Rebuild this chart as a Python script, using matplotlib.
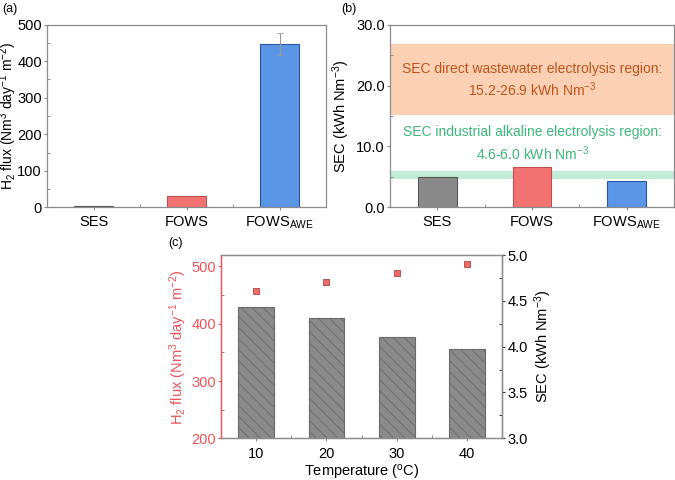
import numpy as np
import matplotlib
matplotlib.use("Agg")
import matplotlib.pyplot as plt
from matplotlib.ticker import MultipleLocator, FixedLocator

plt.rcParams["font.family"] = ["Liberation Sans", "DejaVu Sans"]
plt.rcParams["font.size"] = 10.5
plt.rcParams["mathtext.fontset"] = "custom"
plt.rcParams["mathtext.rm"] = "Liberation Sans"
plt.rcParams["mathtext.it"] = "Liberation Sans:italic"
plt.rcParams["mathtext.bf"] = "Liberation Sans:bold"
plt.rcParams["hatch.linewidth"] = 0.6

# panel (a) / (b)
systems = ["SES", "FOWS", "FOWS$_{\\mathregular{AWE}}$"]
h2_flux = [4, 31, 447]
h2_err = [0, 0, 29]
sec = [5.0, 6.7, 4.4]
bar_colors = ["#8a8a8a", "#f27272", "#5b96e6"]
bar_edges = ["#555555", "#c05050", "#2a55a0"]
direct_band = (15.2, 26.9)
alk_band = (4.6, 6.0)

# panel (c)
temps = [10, 20, 30, 40]
sec_temp = [4.43, 4.31, 4.10, 3.97]
flux_temp = [457, 473, 488, 505]

RED = "#f0545a"
FRAME = "#8c8c8c"
FLUX_LABEL = "H$_\\mathregular{2}$ flux (Nm$^\\mathregular{3}$ day$^\\mathregular{-1}$ m$^\\mathregular{-2}$)"
SEC_LABEL = "SEC (kWh Nm$^\\mathregular{-3}$)"

fig = plt.figure(figsize=(6.75, 4.8), dpi=100)
W, H = 675, 480


def px_axes(x0, x1, y0, y1):
    return fig.add_axes([x0 / W, 1 - y1 / H, (x1 - x0) / W, (y1 - y0) / H])


def frame(ax, color=FRAME):
    for s in ax.spines.values():
        s.set_color(color)
        s.set_linewidth(0.9)
    ax.tick_params(axis="both", direction="out", color=FRAME, length=2.5, width=0.8, pad=1.2)
    ax.tick_params(which="minor", direction="in", length=2, color=FRAME, width=0.7)


# (a)
ax = px_axes(47, 326, 24.7, 207.3)
x = np.arange(1, 4)
ax.bar(x, h2_flux, width=0.41, color=bar_colors, edgecolor=bar_edges, linewidth=0.8)
ax.errorbar(x[2], h2_flux[2], yerr=h2_err[2], fmt="none", ecolor="#999999",
            elinewidth=0.8, capsize=2, capthick=0.6)
ax.set_xlim(0.5, 3.5)
ax.set_ylim(0, 500)
ax.set_xticks(x)
ax.set_xticklabels(systems)
ax.xaxis.set_minor_locator(FixedLocator([1.5, 2.5]))
ax.yaxis.set_major_locator(MultipleLocator(100))
ax.yaxis.set_minor_locator(MultipleLocator(50))
frame(ax)
ax.tick_params(axis="x", pad=3)
ax.set_ylabel(FLUX_LABEL, fontsize=10)
ax.yaxis.set_label_coords(-0.102, 0.5)
fig.text(2 / W, 1 - 12 / H, "(a)", fontsize=9)

# (b)
ax = px_axes(390, 674, 24.7, 207.3)
ax.axhspan(*direct_band, color="#fcd1b3", lw=0, zorder=0)
ax.axhspan(*alk_band, color="#c2ecd6", lw=0, zorder=0)
ax.bar(x, sec, width=0.41, color=bar_colors, edgecolor=bar_edges, linewidth=0.8, zorder=2)
ax.set_xlim(0.5, 3.5)
ax.set_ylim(0, 30)
ax.set_xticks(x)
ax.set_xticklabels(systems)
ax.xaxis.set_minor_locator(FixedLocator([1.5, 2.5]))
ax.yaxis.set_major_locator(MultipleLocator(10))
ax.yaxis.set_minor_locator(MultipleLocator(5))
ax.yaxis.set_major_formatter(lambda v, p: f"{v:.1f}")
ax.text(2, 20.8, "SEC direct wastewater electrolysis region:\n15.2-26.9 kWh Nm$^\\mathregular{-3}$",
        ha="center", va="center", color="#c0521c", fontsize=10, linespacing=1.3)
ax.text(2, 10.4, "SEC industrial alkaline electrolysis region:\n4.6-6.0 kWh Nm$^\\mathregular{-3}$",
        ha="center", va="center", color="#3cb878", fontsize=10, linespacing=1.3)
frame(ax)
ax.tick_params(axis="x", pad=3)
ax.set_ylabel(SEC_LABEL, labelpad=3)
fig.text(341 / W, 1 - 12 / H, "(b)", fontsize=9)

# (c)
ax = px_axes(221, 502.3, 255, 438.3)
ax2 = ax.twinx()
ax.set_zorder(2)
ax.patch.set_visible(False)
ax2.bar(temps, sec_temp, width=5.1, color="#8a8a8a", edgecolor="#6a6a6a",
        hatch="\\\\\\", linewidth=0.8)
ax.scatter(temps, flux_temp, marker="s", s=22, color="#f06a6a",
           edgecolor="#b04545", linewidth=0.6, zorder=3)
ax.set_xlim(5, 45)
ax.set_ylim(200, 520)
ax2.set_ylim(3.0, 5.0)
ax.set_xticks(temps)
ax.xaxis.set_minor_locator(FixedLocator([15, 25, 35]))
ax.yaxis.set_major_locator(MultipleLocator(100))
ax.yaxis.set_minor_locator(MultipleLocator(50))
ax2.yaxis.set_major_locator(MultipleLocator(0.5))
ax2.yaxis.set_minor_locator(MultipleLocator(0.25))
ax2.yaxis.set_major_formatter(lambda v, p: f"{v:.1f}")
frame(ax)
frame(ax2)
ax.tick_params(axis="x", pad=4)
ax.spines["left"].set_color(RED)
ax2.spines["left"].set_color(RED)
ax2.spines["right"].set_color("#333333")
ax.tick_params(axis="y", colors=RED, which="both")
ax2.tick_params(axis="y", color="#333333", which="both")
ax.set_ylabel(FLUX_LABEL, color=RED)
ax.yaxis.set_label_coords(-0.115, 0.5)
ax2.set_ylabel(SEC_LABEL, labelpad=3)
ax.set_xlabel("Temperature ($^\\mathregular{o}$C)", labelpad=1.5)
fig.text(168 / W, 1 - 246 / H, "(c)", fontsize=9)

fig.savefig("out.png", dpi=100)
